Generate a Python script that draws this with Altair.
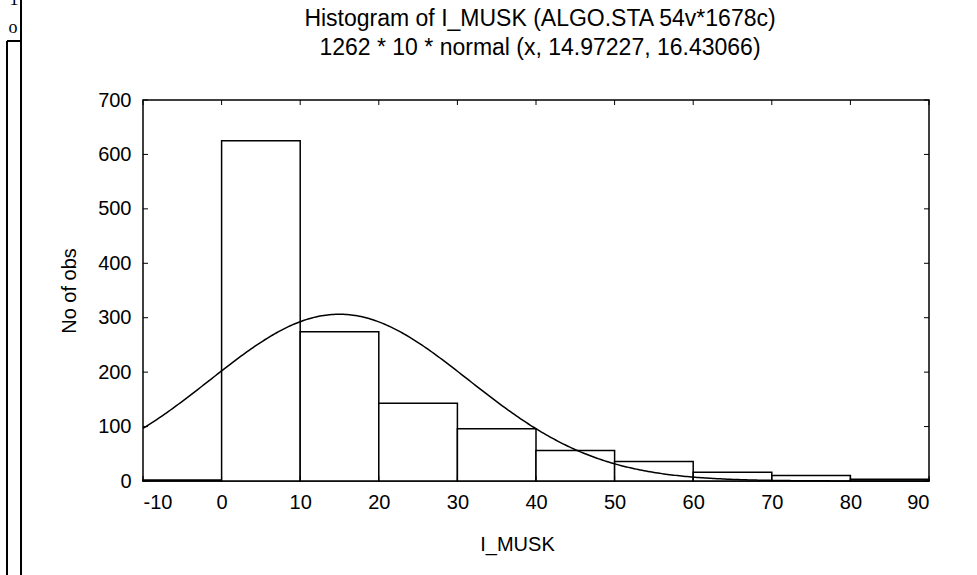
import altair as alt
import pandas as pd

# ---- data ----
bin_start = [-10, 0, 10, 20, 30, 40, 50, 60, 70, 80]
bin_end = [0, 10, 20, 30, 40, 50, 60, 70, 80, 90]
counts = [2, 625, 274, 143, 96, 56, 36, 16, 10, 3]

x_ticks = [-10, 0, 10, 20, 30, 40, 50, 60, 70, 80, 90]
y_ticks = [0, 100, 200, 300, 400, 500, 600, 700]

N_OBS = 1262
BIN_W = 10
MEAN = 14.97227
SD = 16.43066

TITLE = "Histogram of I_MUSK (ALGO.STA 54v*1678c)"
SUBTITLE = "1262 * 10 * normal (x, 14.97227, 16.43066)"

W, H = 786, 381
FONT = "Liberation Sans"

bars_df = pd.DataFrame({"start": bin_start, "end": bin_end, "count": counts})
xt_df = pd.DataFrame({"v": x_ticks})
yt_df = pd.DataFrame({"v": y_ticks})
one = pd.DataFrame({"a": [0]})

xs = alt.Scale(domain=[-10, 90], nice=False, zero=False)
ys = alt.Scale(domain=[0, 700], nice=False)

bars = alt.Chart(bars_df).mark_rect(fill="white", stroke="black", strokeWidth=1.5).encode(
    x=alt.X("start:Q", scale=xs,
            axis=alt.Axis(values=x_ticks, title="I_MUSK", grid=False, ticks=False,
                          domain=False, labelBaseline="alphabetic", labelPadding=27,
                          labelExpr="toString(datum.value)",
                          titleBaseline="alphabetic", titleX=374, titleY=69)),
    x2="end:Q",
    y=alt.Y("count:Q", scale=ys,
            axis=alt.Axis(values=y_ticks, title="No of obs", grid=False, ticks=False,
                          domain=False, labelPadding=12,
                          titleBaseline="alphabetic", titleX=-68, titleY=H / 2)),
    y2=alt.datum(0),
)

curve = alt.Chart(alt.sequence(-10, 90.01, 0.25, as_="x")).transform_calculate(
    y=f"{N_OBS}*{BIN_W}*densityNormal(datum.x, {MEAN}, {SD})"
).mark_line(color="black", strokeWidth=1.5).encode(
    x=alt.X("x:Q", scale=xs),
    y=alt.Y("y:Q", scale=ys),
)

tick_left = alt.Chart(yt_df).mark_rule(color="black", strokeWidth=1).encode(
    y=alt.Y("v:Q", scale=ys), x=alt.value(0), x2=alt.value(5))
tick_right = alt.Chart(yt_df).mark_rule(color="black", strokeWidth=1).encode(
    y=alt.Y("v:Q", scale=ys), x=alt.value(W - 5), x2=alt.value(W))
tick_top = alt.Chart(xt_df).mark_rule(color="black", strokeWidth=1).encode(
    x=alt.X("v:Q", scale=xs), y=alt.value(0), y2=alt.value(5))
tick_bottom = alt.Chart(xt_df).mark_rule(color="black", strokeWidth=1).encode(
    x=alt.X("v:Q", scale=xs), y=alt.value(H - 5), y2=alt.value(H))

# chart titles (two centred lines above the plot)
title1 = alt.Chart(one).mark_text(font=FONT, fontSize=23, color="black",
                                  align="center", baseline="middle").encode(
    x=alt.value(397), y=alt.value(-81), text=alt.value(TITLE))
title2 = alt.Chart(one).mark_text(font=FONT, fontSize=23, color="black",
                                  align="center", baseline="middle").encode(
    x=alt.value(397), y=alt.value(-52), text=alt.value(SUBTITLE))

# page-edge fragments seen at the left of the reference
edge1 = alt.Chart(one).mark_rule(color="black", strokeWidth=2).encode(
    x=alt.value(-122), y=alt.value(-100), y2=alt.value(475))
edge2 = alt.Chart(one).mark_rule(color="black", strokeWidth=2).encode(
    x=alt.value(-136), y=alt.value(-59), y2=alt.value(475))
edge3 = alt.Chart(one).mark_rule(color="black", strokeWidth=2).encode(
    x=alt.value(-136), x2=alt.value(-122), y=alt.value(-59))
edge_o = alt.Chart(one).mark_text(font="Liberation Serif", fontSize=18, color="black",
                                  align="center", baseline="alphabetic").encode(
    x=alt.value(-130), y=alt.value(-67), text=alt.value("o"))
edge_1 = alt.Chart(one).mark_text(font="Liberation Serif", fontSize=18, color="black",
                                  align="center", baseline="alphabetic").encode(
    x=alt.value(-129), y=alt.value(-95), text=alt.value("1"))

chart = alt.layer(
    bars, curve, tick_left, tick_right, tick_top, tick_bottom,
    title1, title2, edge1, edge2, edge3, edge_o, edge_1,
).properties(
    width=W, height=H,
    background="white",
    autosize=alt.AutoSizeParams(type="none"),
    padding={"left": 143, "top": 100, "right": 48, "bottom": 94},
).configure_view(
    stroke="black", strokeWidth=1.5,
).configure_axis(
    labelFont=FONT, labelFontSize=20, labelColor="black",
    titleFont=FONT, titleFontSize=20, titleColor="black", titleFontWeight="normal",
)

chart.save("out.html", embed_options={"renderer": "svg", "actions": False})
